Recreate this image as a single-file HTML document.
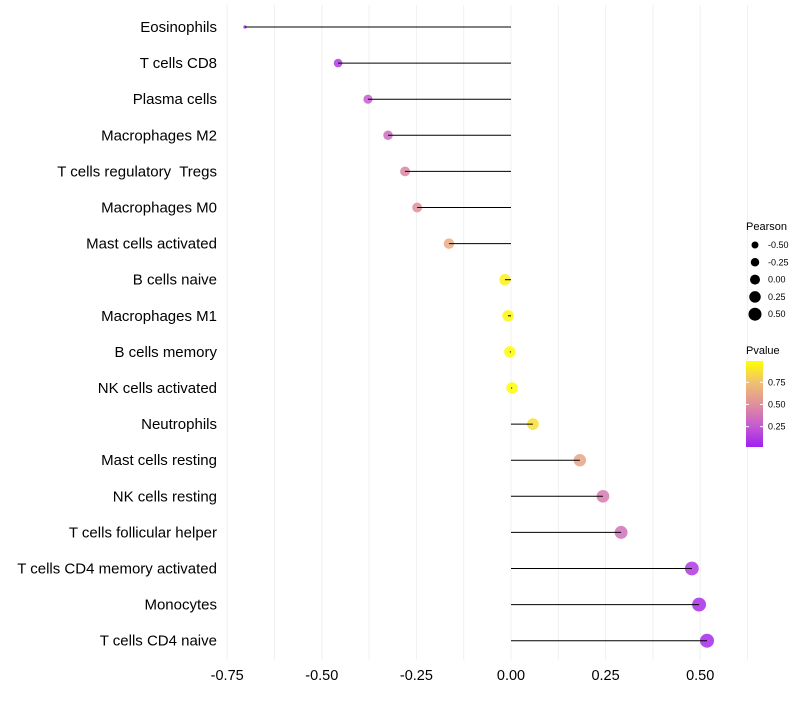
<!DOCTYPE html>
<html><head><meta charset="utf-8"><style>
body{margin:0;background:#fff;font-family:"Liberation Sans",sans-serif}
</style></head><body>
<svg id="c" width="800" height="700" xmlns="http://www.w3.org/2000/svg" font-family="Liberation Sans, sans-serif"></svg>
<script>
const categories=["Eosinophils","T cells CD8","Plasma cells","Macrophages M2","T cells regulatory  Tregs","Macrophages M0","Mast cells activated","B cells naive","Macrophages M1","B cells memory","NK cells activated","Neutrophils","Mast cells resting","NK cells resting","T cells follicular helper","T cells CD4 memory activated","Monocytes","T cells CD4 naive"];
const pearson=[-0.703,-0.457,-0.378,-0.325,-0.28,-0.248,-0.164,-0.016,-0.008,-0.003,0.003,0.058,0.182,0.243,0.291,0.478,0.497,0.518];
const pvalue=[0.01,0.12,0.25,0.33,0.45,0.5,0.65,0.95,0.97,0.99,0.99,0.88,0.6,0.4,0.35,0.1,0.06,0.04];
const xTicks=[-0.75,-0.5,-0.25,0,0.25,0.5];
const xTickLabels=["-0.75","-0.50","-0.25","0.00","0.25","0.50"];
const sizeLegend=[-0.5,-0.25,0,0.25,0.5];
const sizeLegendLabels=["-0.50","-0.25","0.00","0.25","0.50"];
const pTicks=[0.25,0.5,0.75];
const pTickLabels=["0.25","0.50","0.75"];

const svg=document.getElementById('c');
const NS="http://www.w3.org/2000/svg";
function mk(t,a,p){const e=document.createElementNS(NS,t);for(const k in a)e.setAttribute(k,a[k]);(p||svg).appendChild(e);return e;}
const x=v=>511+v*378.4;
const y=i=>27+i*36.1;
const pMin=Math.min(...pearson);
const r=v=>{const d=v-pMin;return d<0.05?1.6:Math.sqrt(10.8+31.3*d);};
const stops=[[0,[160,32,240]],[0.25,[198,92,208]],[0.5,[224,144,154]],[0.75,[240,192,112]],[1,[255,255,0]]];
function col(p){p=Math.max(0,Math.min(1,p));for(let i=1;i<stops.length;i++){if(p<=stops[i][0]){const a=stops[i-1],b=stops[i],t=(p-a[0])/(b[0]-a[0]);const c=a[1].map((v,k)=>Math.round(v+(b[1][k]-v)*t));return `rgb(${c.join(',')})`;}}return 'rgb(255,255,0)';}

for(let v=-0.75;v<=0.626;v+=0.125){
  const g=mk('line',{x1:x(v),x2:x(v),y1:5,y2:660,stroke:'#f0f0f0','stroke-width':1});
  
  
}
xTicks.forEach((v,i)=>{
  const t=mk('text',{x:x(v),y:680,'text-anchor':'middle','font-size':14.5,fill:'#000'});
  t.textContent=xTickLabels[i];
  
  
});
categories.forEach((c,i)=>{
  const t=mk('text',{x:217,y:y(i)+5,'text-anchor':'end','font-size':15,fill:'#000'});
  t.setAttribute('xml:space','preserve');
  t.style.whiteSpace='pre';
  t.textContent=c;
  
  
  const d=mk('circle',{cx:x(pearson[i]),cy:y(i),r:r(pearson[i]),fill:col(pvalue[i]),'fill-opacity':0.85});
  
  
  const l=mk('line',{x1:x(0),x2:x(pearson[i]),y1:y(i),y2:y(i),stroke:'#000','stroke-width':1});
  
  
});
let t=mk('text',{x:746,y:230,'font-size':11,fill:'#000'});t.textContent='Pearson';


sizeLegend.forEach((v,i)=>{
  const rr=3.5+(v+0.5)*3;
  const c=mk('circle',{cx:755,cy:245+i*17.3,r:rr,fill:'#000'});
  
  
  const tt=mk('text',{x:768,y:248+i*17.3,'font-size':9,fill:'#000'});tt.textContent=sizeLegendLabels[i];
  
  
});
t=mk('text',{x:746,y:354,'font-size':11,fill:'#000'});t.textContent='Pvalue';


const defs=mk('defs',{});
const lg=mk('linearGradient',{id:'pg',x1:0,y1:1,x2:0,y2:0},defs);
stops.forEach(s=>mk('stop',{offset:s[0],'stop-color':col(s[0])},lg));
const bar=mk('rect',{x:746,y:361,width:17,height:86,fill:'url(#pg)'});


const py=p=>447-(p-0.02)/(0.99-0.02)*86;
pTicks.forEach((p,i)=>{
  mk('line',{x1:746,x2:749,y1:py(p),y2:py(p),stroke:'#fff'});
  mk('line',{x1:760,x2:763,y1:py(p),y2:py(p),stroke:'#fff'});
  const tt=mk('text',{x:768,y:py(p)+3,'font-size':9,fill:'#000'});tt.textContent=pTickLabels[i];
  
  
});
</script>
</body></html>
